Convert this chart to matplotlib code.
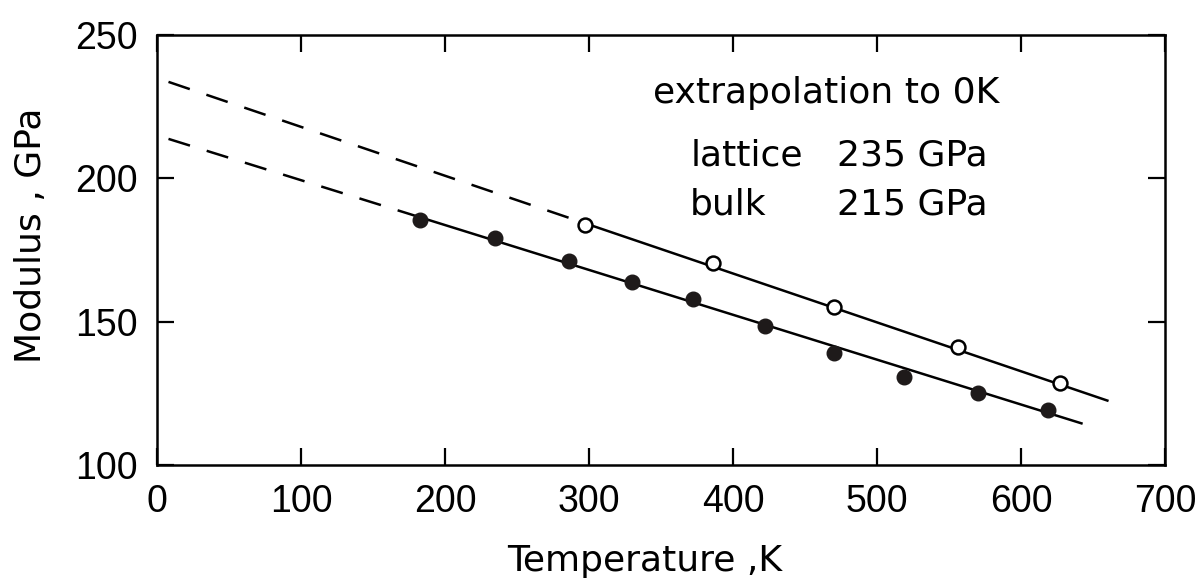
import matplotlib
matplotlib.use("Agg")
import matplotlib.pyplot as plt
import numpy as np

plt.rcParams["font.family"] = ["Liberation Sans", "DejaVu Sans"]

# measured points
bulk_T = [183, 235, 286, 330, 372, 422, 470, 519, 570, 619]
bulk_M = [185.5, 179.1, 171.2, 163.9, 157.8, 148.5, 138.9, 130.8, 125.2, 119.2]
lattice_T = [297, 386, 470, 556, 627]
lattice_M = [183.7, 170.6, 155.0, 141.2, 128.7]

# linear fits, intercept = extrapolated 0 K modulus
lattice_fit = (235.0, -0.1705)
bulk_fit = (215.0, -0.1565)
lattice_end = 660
bulk_end = 642
extrap_start = 8

xticks = [0, 100, 200, 300, 400, 500, 600, 700]
yticks = [100, 150, 200, 250]

fig = plt.figure(figsize=(12.01, 5.79), dpi=100)
ax = fig.add_axes([0.1307, 0.1969, 0.8393, 0.7427])


def fit_line(fit, t0, t1, **kw):
    t = np.array([t0, t1], dtype=float)
    ax.plot(t, fit[0] + fit[1] * t, color="black", lw=1.8, **kw)


for fit, T, end in [(lattice_fit, lattice_T, lattice_end), (bulk_fit, bulk_T, bulk_end)]:
    fit_line(fit, extrap_start, T[0], dashes=(9, 7))
    fit_line(fit, T[0], end)

ax.plot(bulk_T, bulk_M, "o", ms=10.5, color="#1e1a1a", mec="#1e1a1a", zorder=3)
ax.plot(lattice_T, lattice_M, "o", ms=10, mfc="white", mec="black", mew=1.8, zorder=3)

ax.set_xlim(0, 700)
ax.set_ylim(100, 250)
ax.set_xticks(xticks)
ax.set_yticks(yticks)
ax.tick_params(direction="in", length=12, width=1.6, labelsize=27, pad=14,
               top=True, right=True)
for s in ax.spines.values():
    s.set_linewidth(1.8)

label_font = dict(fontsize=26, family="DejaVu Sans")
ax.set_xlabel("Temperature ,K", **label_font)
ax.set_ylabel("Modulus , GPa", **label_font)
ax.xaxis.set_label_coords(0.484, -0.183)
ax.yaxis.set_label_coords(-0.108, 0.535)

note = dict(transform=ax.transAxes, fontsize=26, family="DejaVu Sans", va="center")
ax.text(0.492, 0.865, "extrapolation to 0K", **note)
ax.text(0.529, 0.72, "lattice", **note)
ax.text(0.675, 0.72, "235 GPa", **note)
ax.text(0.529, 0.605, "bulk", **note)
ax.text(0.675, 0.605, "215 GPa", **note)

fig.savefig("out.png", dpi=100)
